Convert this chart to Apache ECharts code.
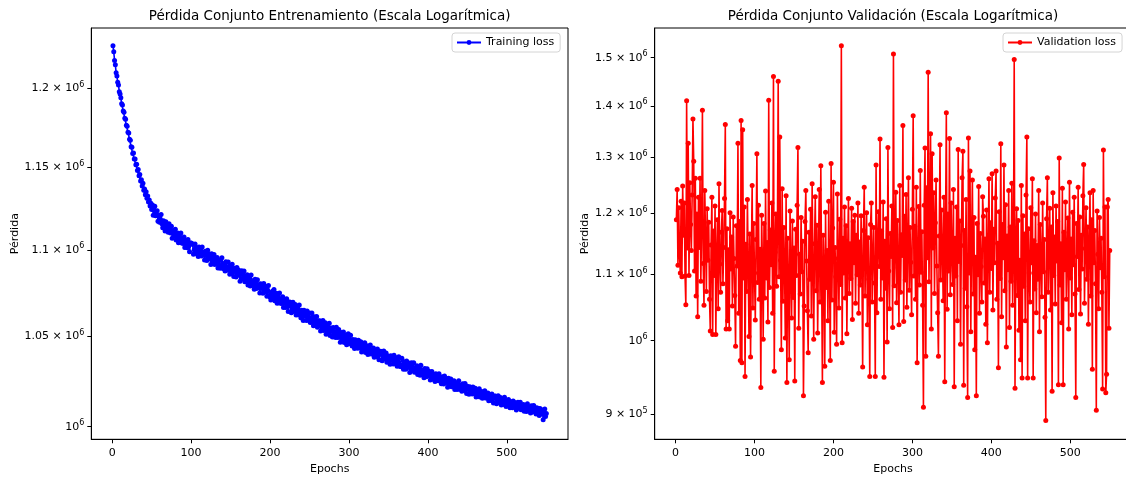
<!DOCTYPE html>
<html><head><meta charset="utf-8">
<script src="https://cdn.jsdelivr.net/npm/echarts@6/dist/echarts.min.js"></script>
<style>html,body{margin:0;padding:0;background:#fff}#c{width:1126px;height:477px}</style>
</head><body><div id="c"></div>
<script>
// ---- data ----
const trainLoss = [
1227900,1223900,1218200,1215300,1210100,1208000,1203900,1202200,1197800,1196300,
1193900,1190100,1189200,1185400,1184600,1180800,1180100,1176300,1175800,1171900,
1171400,1167500,1166900,1162800,1162500,1158600,1158900,1155100,1155200,1151600,
1151900,1148100,1148600,1144800,1145600,1141500,1142300,1138400,1140100,1135800,
1136600,1133100,1135000,1131000,1132400,1128700,1129900,1126200,1127900,1124100,
1126900,1120700,1124000,1126100,1120300,1121000,1123400,1117000,1120500,1116500,
1118300,1121100,1115500,1113200,1117400,1116100,1111200,1116700,1113100,1114900,
1110400,1115600,1111800,1110000,1114000,1106800,1111000,1111600,1108000,1112300,
1105800,1108200,1110000,1104200,1108100,1105800,1110000,1104000,1106200,1103800,
1107600,1101300,1105700,1103900,1101200,1106200,1102300,1098800,1104000,1104100,
1103800,1103100,1097300,1100100,1103500,1097800,1099900,1101100,1096100,1101700,
1097300,1099100,1096300,1101600,1096900,1098500,1094000,1099200,1096800,1093700,
1099700,1094600,1097500,1096200,1091300,1097700,1093000,1094100,1097200,1091300,
1095100,1092600,1095400,1089200,1093400,1094000,1089100,1090700,1095300,1091600,
1088800,1091900,1087500,1092900,1089600,1087900,1092800,1089800,1085600,1090800,
1086300,1091500,1087300,1084300,1089100,1087400,1084000,1089500,1085000,1088100,
1085300,1081500,1086200,1087700,1082800,1083300,1087500,1081200,1084100,1081600,
1085300,1079400,1082400,1083600,1078800,1085200,1080300,1079000,1081900,1076800,
1082700,1079600,1077300,1082400,1077900,1079500,1074700,1080100,1077300,1079000,
1074600,1080200,1075300,1076400,1078500,1072800,1076100,1079000,1073200,1072400,
1070600,1074900,1075700,1072200,1076700,1070200,1072700,1074500,1068800,1072700,
1070500,1074700,1068800,1071000,1068700,1072500,1066300,1070700,1069000,1066300,
1071400,1067500,1064100,1069300,1069500,1069000,1063300,1067000,1069400,1064000,
1065100,1068000,1062000,1065900,1062200,1064500,1067700,1062500,1060500,1064800,
1063700,1058900,1064700,1061300,1063200,1058900,1064300,1060700,1059000,1063200,
1057700,1058000,1063200,1059800,1055900,1061100,1058400,1056700,1061200,1055000,
1058800,1056500,1058800,1052900,1057100,1054900,1058900,1053200,1055000,1057600,
1051100,1055600,1052100,1053000,1057300,1050400,1054600,1053000,1049500,1054900,
1050600,1052600,1049300,1055000,1050300,1049300,1053700,1051600,1046500,1049800,
1052000,1048400,1052400,1046400,1049300,1050500,1045200,1047600,1051400,1045700,
1047900,1050500,1046200,1044400,1048100,1047200,1043100,1048000,1045200,1046900,
1043200,1047700,1044700,1043300,1046900,1041000,1044700,1045400,1042400,1046300,
1040800,1043000,1044600,1039700,1043100,1041200,1045000,1040000,1041900,1040000,
1043300,1038100,1042000,1040600,1038400,1042800,1039500,1036800,1041200,1041500,
1041100,1036200,1039500,1041600,1037100,1038100,1040500,1035400,1038900,1035800,
1038300,1034200,1038900,1036600,1038100,1034400,1039200,1035000,1036100,1037900,
1033100,1036000,1038400,1033700,1033000,1033000,1037500,1033900,1031500,1035600,
1034200,1031400,1036100,1032400,1035100,1032700,1029600,1033600,1035000,1030900,
1031300,1035100,1029800,1032200,1030100,1033400,1028500,1031100,1032100,1028100,
1033600,1029500,1028400,1031000,1026700,1031800,1029200,1027300,1031700,1027900,
1030300,1029900,1025500,1027600,1030200,1025900,1027600,1028500,1024700,1029000,
1025800,1027100,1025000,1029000,1025500,1026800,1023400,1027300,1025500,1023300,
1027700,1023900,1026200,1025200,1021500,1026400,1022900,1023700,1026100,1021700,
1024600,1022800,1025000,1020300,1023500,1024000,1020300,1021600,1025100,1022300,
1020200,1022600,1019300,1023400,1021000,1019700,1023500,1021300,1018000,1022100,
1020900,1017700,1021700,1019400,1020800,1017800,1021600,1019200,1018000,1021000,
1016100,1019300,1019800,1017400,1020700,1016100,1018000,1019200,1015400,1018100,
1016700,1019600,1015600,1017200,1015600,1018300,1014100,1017200,1016100,1014200,
1017800,1015200,1012800,1016600,1016700,1016500,1012400,1015100,1016800,1013100,
1013900,1015900,1011800,1014500,1012100,1013600,1016000,1012300,1011000,1014100,
1011400,1014800,1012100,1010300,1013500,1012500,1010300,1013900,1011000,1013100,
1011400,1009000,1012100,1013200,1010000,1010400,1013200,1009200,1011200,1009600,
1012000,1008300,1010300,1011100,1008200,1012500,1009400,1008600,1010600,1007400,
1011400,1009400,1008000,1011500,1008600,1009800,1006800,1010300,1008600,1009800,
1006100,1009800,1006700,1007500,1009000,1003800,1007700,1009600,1005500,1007200
];
const valLoss = [
1189000,1242000,1114000,1210000,1130000,1102000,1221000,1096000,1248000,1163000,
1218000,1097000,1053000,1410000,1142000,1327000,1098000,1254000,1181000,1138000,
1232000,1374000,1293000,1105000,1262000,1066000,1199000,1035000,1228000,1143000,
1262000,1089000,1176000,1391000,1117000,1052000,1240000,1156000,1073000,1208000,
1122000,1185000,1061000,1014000,1147000,1228000,1009000,1170000,1098000,1213000,
1009000,1131000,1189000,1047000,1252000,1116000,1072000,1168000,1205000,1085000,
1143000,1226000,1363000,1017000,1174000,1029000,1139000,1017000,1201000,1108000,
1160000,1051000,1194000,1125000,1067000,992000,1179000,1113000,1327000,1040000,
1186000,972000,1371000,969000,1353000,1094000,1211000,950000,1148000,1073000,
1224000,1112000,1006000,1165000,977000,1127000,1249000,1048000,1183000,1102000,
1030000,1156000,1307000,1087000,1214000,1061000,1140000,935000,1197000,1118000,
1002000,1183000,1063000,1239000,1094000,1151000,1027000,1411000,1079000,1172000,
1115000,1218000,1040000,1460000,957000,1135000,1199000,1081000,1168000,1450000,
1096000,1339000,1122000,987000,1243000,1058000,1176000,1117000,1004000,1231000,
942000,1158000,1087000,973000,1204000,1109000,1033000,1187000,1064000,1142000,
944000,1173000,1098000,1214000,1319000,1018000,1132000,1069000,1193000,1104000,
1153000,924000,1051000,1186000,1240000,1121000,1044000,983000,1168000,1092000,
1207000,1036000,1252000,1113000,1002000,1149000,1229000,1074000,1180000,1011000,
1131000,1242000,1057000,1285000,1098000,942000,1163000,1116000,964000,1202000,
1079000,1138000,1029000,1221000,1107000,972000,1289000,1060000,1175000,1255000,
1012000,1143000,1096000,995000,1234000,1125000,1048000,1190000,1084000,1526000,
997000,1158000,1102000,1211000,1063000,1179000,1010000,1137000,1226000,1070000,
1149000,1093000,1209000,1031000,1186000,1118000,1197000,1055000,1163000,1099000,
1218000,1040000,1152000,1083000,1196000,1114000,963000,1171000,1246000,1066000,
1135000,1201000,1023000,1159000,1092000,950000,1181000,1218000,1057000,1127000,
1176000,1086000,950000,1286000,1041000,1149000,1203000,1112000,1335000,1061000,
1170000,1094000,1220000,949000,1153000,1078000,1191000,998000,1319000,1105000,
1047000,1166000,1128000,1213000,1019000,1508000,1082000,1143000,1237000,1056000,
1188000,1110000,1023000,1249000,1072000,1164000,1130000,1361000,1028000,1195000,
1091000,1233000,1049000,1150000,1263000,1075000,1176000,1119000,1038000,1207000,
1380000,1097000,1178000,1061000,1246000,969000,1134000,1212000,1083000,1276000,
1103000,1169000,1052000,909000,1214000,1318000,978000,1245000,1126000,1469000,
1088000,1195000,1345000,1017000,1307000,1142000,1236000,1070000,1184000,1259000,
1113000,1041000,978000,1162000,1324000,1091000,1206000,1137000,1059000,1228000,
943000,1174000,1386000,1046000,1199000,1105000,1336000,1068000,1218000,1131000,
1084000,1242000,936000,1158000,1097000,1211000,1029000,1315000,1120000,1187000,
995000,1146000,1263000,1312000,938000,1171000,1078000,1224000,1050000,922000,
1337000,1102000,1275000,1013000,1160000,1259000,1069000,1193000,987000,1127000,
924000,1183000,1099000,1247000,1040000,1166000,1112000,1057000,1229000,1195000,
1086000,1157000,1024000,1206000,997000,1138000,1261000,1072000,1184000,1109000,
1270000,1045000,1173000,1118000,1227000,1275000,1061000,1150000,962000,1203000,
1093000,1326000,1035000,1181000,1126000,1286000,1074000,1215000,991000,1162000,
1107000,1240000,1019000,1177000,1089000,1253000,1052000,1136000,1496000,934000,
1143000,1208000,1067000,1188000,1015000,1122000,973000,1249000,948000,1196000,
1081000,1165000,1029000,1232000,1339000,948000,1174000,1102000,1057000,1210000,
1118000,1261000,948000,1154000,1077000,1199000,1041000,1146000,1092000,1240000,
1013000,1181000,1127000,1065000,1218000,1104000,1156000,1034000,892000,1191000,
1263000,1072000,1139000,1209000,1045000,1177000,930000,1236000,1098000,1160000,
1054000,1213000,1121000,1186000,939000,1299000,1083000,1149000,1026000,1244000,
939000,1168000,1107000,1220000,1061000,1135000,1192000,1017000,1255000,1094000,
1157000,1038000,1202000,1115000,1228000,1069000,922000,1183000,1128000,1246000,
1076000,1194000,1039000,1163000,1108000,1231000,1287000,1055000,1141000,1210000,
1092000,1177000,1024000,1153000,1236000,1066000,1189000,960000,1240000,1118000,
1171000,1085000,905000,1204000,1132000,1047000,1193000,1110000,1158000,1072000,
933000,1314000,1096000,1211000,928000,953000,1211000,1224000,1018000,1138000
];
const xTicks = [0, 100, 200, 300, 400, 500];
const yTicksTrain = [1000000, 1050000, 1100000, 1150000, 1200000];
const yTicksVal = [900000, 1000000, 1100000, 1200000, 1300000, 1400000, 1500000];
const titleTexts = ['Pérdida Conjunto Entrenamiento (Escala Logarítmica)', 'Pérdida Conjunto Validación (Escala Logarítmica)'];
const seriesNames = ['Training loss', 'Validation loss'];
const xName = 'Epochs';
const yName = 'Pérdida';

// ---- chart ----
const FONT = 'DejaVu Sans';
const TXT = '#000';
const epochs = trainLoss.map((_, i) => i + 1);

function sciLabel(v) {
  v = Math.round(v);
  const e = Math.floor(Math.log10(v) + 1e-9);
  const m = Math.round(v / Math.pow(10, e) * 1000) / 1000;
  if (m === 1) return '{m|10}{s|' + e + '}';
  return '{m|' + m + ' × 10}{s|' + e + '}';
}
const rich = {
  m: { fontSize: 11, fontFamily: FONT, color: TXT },
  s: { fontSize: 8, fontFamily: FONT, color: TXT, padding: [0, 0, 7, 0] }
};

const grids = [
  { left: 91.3, top: 28, width: 476.7, height: 411.3 },
  { left: 654.7, top: 28, width: 476.7, height: 411.3 }
];

function xAxisCfg(gi) {
  return {
    type: 'value', gridIndex: gi, min: -26.45, max: 577.45,
    name: xName, nameLocation: 'middle', nameGap: 24,
    nameTextStyle: { fontSize: 11, fontFamily: FONT, color: TXT },
    axisLine: { show: true, onZero: false, lineStyle: { color: '#000', width: 1 } },
    axisTick: { show: true, length: 4, customValues: xTicks, lineStyle: { color: '#000' } },
    axisLabel: { customValues: xTicks, margin: 8, fontSize: 11, fontFamily: FONT, color: TXT },
    splitLine: { show: false }
  };
}
function yAxisCfg(gi, ticks, min, max, gap) {
  return {
    type: 'log', logBase: 10, gridIndex: gi, min: min, max: max,
    name: yName, nameLocation: 'middle', nameGap: gap,
    nameTextStyle: { fontSize: 11, fontFamily: FONT, color: TXT },
    axisLine: { show: true, onZero: false, lineStyle: { color: '#000', width: 1 } },
    axisTick: { show: true, length: 4, customValues: ticks, lineStyle: { color: '#000' } },
    axisLabel: { customValues: ticks, margin: 7, formatter: sciLabel, rich: rich },
    splitLine: { show: false }, minorTick: { show: false }
  };
}
function lineSeries(name, gi, values, color) {
  return {
    type: 'line', name: name, xAxisIndex: gi, yAxisIndex: gi,
    data: values.map((v, i) => [epochs[i], v]),
    symbol: 'circle', symbolSize: 5, showSymbol: true, showAllSymbol: true,
    lineStyle: { color: color, width: 1.6 }, itemStyle: { color: color },
    emphasis: { disabled: true }, animation: false, z: 3
  };
}
function legendCfg(name, left) {
  return {
    data: [name], left: left, top: 33, orient: 'horizontal',
    padding: [4, 6, 4, 4], itemWidth: 24, itemHeight: 6, itemGap: 5,
    backgroundColor: '#fff', borderColor: '#d4d4d4', borderWidth: 1, borderRadius: 3,
    textStyle: { fontSize: 11, fontFamily: FONT, color: TXT }, z: 10
  };
}

const chart = echarts.init(document.getElementById('c'), null, { renderer: 'canvas' });
chart.setOption({
  animation: false,
  backgroundColor: '#fff',
  title: [
    { text: titleTexts[0], left: 329.7, top: 9, textAlign: 'center', padding: 0,
      textStyle: { fontSize: 13.5, fontWeight: 'normal', fontFamily: FONT, color: TXT } },
    { text: titleTexts[1], left: 893, top: 9, textAlign: 'center', padding: 0,
      textStyle: { fontSize: 13.5, fontWeight: 'normal', fontFamily: FONT, color: TXT } }
  ],
  legend: [legendCfg(seriesNames[0], 452), legendCfg(seriesNames[1], 1003)],
  grid: grids.map(g => Object.assign({ show: true, borderColor: '#000', borderWidth: 1,
    backgroundColor: 'transparent', containLabel: false, outerBoundsMode: 'none' }, g)),
  xAxis: [xAxisCfg(0), xAxisCfg(1)],
  yAxis: [
    yAxisCfg(0, yTicksTrain, 993234, 1239640, 69),
    yAxisCfg(1, yTicksVal, 868260, 1565130, 63)
  ],
  series: [
    lineSeries(seriesNames[0], 0, trainLoss, '#0000ff'),
    lineSeries(seriesNames[1], 1, valLoss, '#ff0000')
  ]
});
</script></body></html>
